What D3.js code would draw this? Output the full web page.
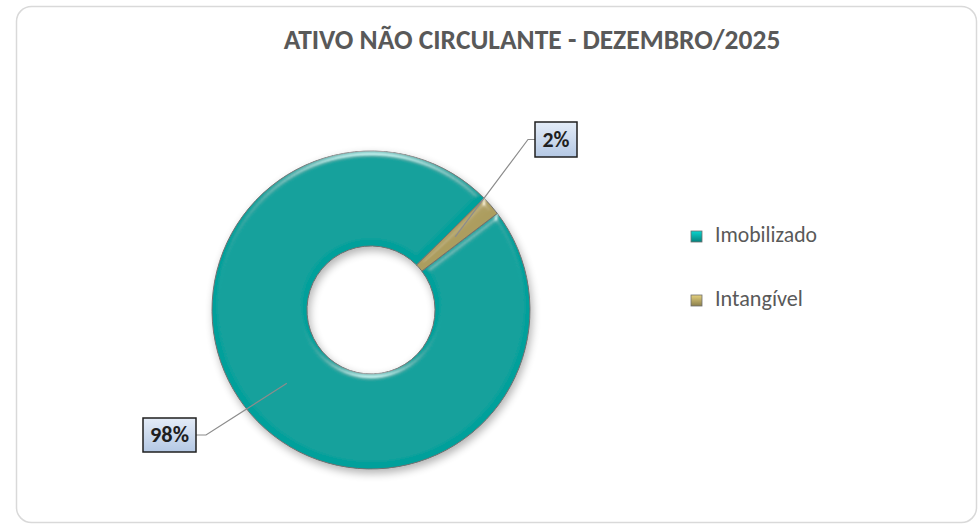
<!DOCTYPE html>
<html>
<head>
<meta charset="utf-8">
<script src="https://cdn.jsdelivr.net/npm/d3@7"></script>
<style>
  body { margin: 0; background: #fff; }
  text { font-family: Carlito, Lato, "Open Sans", sans-serif; }
</style>
</head>
<body>
<div id="viz"></div>
<script>
// chart data
const categories = ["Imobilizado", "Intangível"];
const values = [98, 2];
const labels = ["98%", "2%"];
const colors = ["#06a09b", "#ac9d5e"];
const title = "ATIVO NÃO CIRCULANTE - DEZEMBRO/2025";

const width = 978, height = 525;
const cx = 371, cy = 310, rOuter = 159, rInner = 64;

const svg = d3.select("#viz")
  .append("svg")
    .attr("width", width)
    .attr("height", height);

const defs = svg.append("defs");

// bevel filter for the slices
const bevel = defs.append("filter").attr("id", "bevel")
  .attr("x", "-10%").attr("y", "-10%").attr("width", "120%").attr("height", "120%");
bevel.append("feGaussianBlur").attr("in", "SourceAlpha").attr("stdDeviation", 3).attr("result", "blur");
bevel.append("feSpecularLighting")
    .attr("in", "blur").attr("surfaceScale", 4).attr("specularConstant", 0.9)
    .attr("specularExponent", 28).attr("lighting-color", "#ffffff").attr("result", "spec")
  .append("feDistantLight").attr("azimuth", 270).attr("elevation", 28);
bevel.append("feComposite").attr("in", "spec").attr("in2", "SourceAlpha")
  .attr("operator", "in").attr("result", "specIn");
bevel.append("feComposite").attr("in", "SourceGraphic").attr("in2", "specIn")
  .attr("operator", "arithmetic").attr("k1", 0).attr("k2", 1).attr("k3", 0.5).attr("k4", 0);

// soft shadow under the donut
const shadow = defs.append("filter").attr("id", "shadow")
  .attr("x", "-20%").attr("y", "-20%").attr("width", "140%").attr("height", "140%");
shadow.append("feGaussianBlur").attr("in", "SourceAlpha").attr("stdDeviation", 4).attr("result", "b");
shadow.append("feOffset").attr("in", "b").attr("dx", 2).attr("dy", 4).attr("result", "o");
shadow.append("feComponentTransfer").attr("in", "o").attr("result", "s")
  .append("feFuncA").attr("type", "linear").attr("slope", 0.3);
const sm = shadow.append("feMerge");
sm.append("feMergeNode").attr("in", "s");
sm.append("feMergeNode").attr("in", "SourceGraphic");

// label box gradient
const lg = defs.append("linearGradient").attr("id", "labelGrad")
  .attr("x1", 0).attr("y1", 0).attr("x2", 0).attr("y2", 1);
lg.append("stop").attr("offset", "0%").attr("stop-color", "#e4ecf7");
lg.append("stop").attr("offset", "100%").attr("stop-color", "#b4c8e4");

// legend marker gradients
colors.forEach((c, i) => {
  const g = defs.append("linearGradient").attr("id", "leg" + i)
    .attr("x1", 0).attr("y1", 0).attr("x2", 0).attr("y2", 1);
  g.append("stop").attr("offset", "0%").attr("stop-color", d3.color(c).brighter(0.8));
  g.append("stop").attr("offset", "100%").attr("stop-color", d3.color(c).darker(0.6));
});

// chart frame
svg.append("rect")
  .attr("x", 16.5).attr("y", 6.5)
  .attr("width", 960).attr("height", 516)
  .attr("rx", 15).attr("ry", 15)
  .attr("fill", "#fff")
  .attr("stroke", "#d9d9d9")
  .attr("stroke-width", 1.5);

// scale font so text hits a target width
const fitText = (sel, target, size) => {
  sel.style("font-size", size + "px");
  const w = sel.node().getComputedTextLength();
  sel.style("font-size", (size * target / w) + "px");
};

// title
const t = svg.append("text")
  .attr("x", 532).attr("y", 49)
  .attr("text-anchor", "middle")
  .attr("fill", "#595959")
  .style("font-weight", "bold")
  .text(title);
fitText(t, 497, 24);

// donut
const data = categories.map((c, i) => ({name: c, value: values[i], label: labels[i], color: colors[i]}));
const start = 52.6 * Math.PI / 180;
const pie = d3.pie().value(d => d.value).sort(null)
  .startAngle(start).endAngle(start + 2 * Math.PI);
const arc = d3.arc().innerRadius(rInner).outerRadius(rOuter);
const midArc = d3.arc().innerRadius((rInner + rOuter) / 2).outerRadius((rInner + rOuter) / 2);

const g = svg.append("g").attr("transform", "translate(" + cx + "," + cy + ")");
const ring = g.append("g").attr("filter", "url(#shadow)");
ring.selectAll("path")
  .data(pie(data))
  .join("path")
    .attr("d", arc)
    .attr("fill", d => d.data.color)
    .attr("stroke", "#6f6f6f")
    .attr("stroke-width", 1)
    .attr("filter", "url(#bevel)");

// data labels with leader lines (box centre relative to donut centre)
const labelPos = [{x: -201.5, y: 125, w: 53, h: 34, side: "left"}, {x: 185, y: -170.5, w: 42, h: 35, side: "right"}];
pie(data).forEach((d, i) => {
  const p = labelPos[i];
  const c = midArc.centroid(d);
  const edgeX = p.side === "left" ? p.x + p.w / 2 : p.x - p.w / 2;
  const elbowX = p.side === "left" ? edgeX + 10 : edgeX - 7;
  g.append("polyline")
    .attr("points", [[edgeX, p.y], [elbowX, p.y], c].map(q => q.join(",")).join(" "))
    .attr("fill", "none")
    .attr("stroke", "#8c8c8c")
    .attr("stroke-width", 1.2);
  g.append("rect")
    .attr("x", p.x - p.w / 2).attr("y", p.y - p.h / 2)
    .attr("width", p.w).attr("height", p.h)
    .attr("fill", "url(#labelGrad)")
    .attr("stroke", "#1f1f1f")
    .attr("stroke-width", 1.5);
  const lt = g.append("text")
    .attr("x", p.x).attr("y", p.y + 7)
    .attr("text-anchor", "middle")
    .attr("fill", "#1f1f1f")
    .style("font-weight", "bold")
    .text(d.data.label);
  fitText(lt, i === 0 ? 39 : 27, 20);
});

// legend
const legendW = [102, 88];
const legend = svg.append("g").attr("transform", "translate(691,231)");
data.forEach((d, i) => {
  const row = legend.append("g").attr("transform", "translate(0," + i * 64 + ")");
  row.append("rect")
    .attr("width", 11).attr("height", 11)
    .attr("fill", "url(#leg" + i + ")")
    .attr("stroke", "#6f6f6f")
    .attr("stroke-width", 0.8);
  const lt = row.append("text")
    .attr("x", 24).attr("y", 11)
    .attr("fill", "#595959")
    .text(d.name);
  fitText(lt, legendW[i], 18);
});
</script>
</body>
</html>
